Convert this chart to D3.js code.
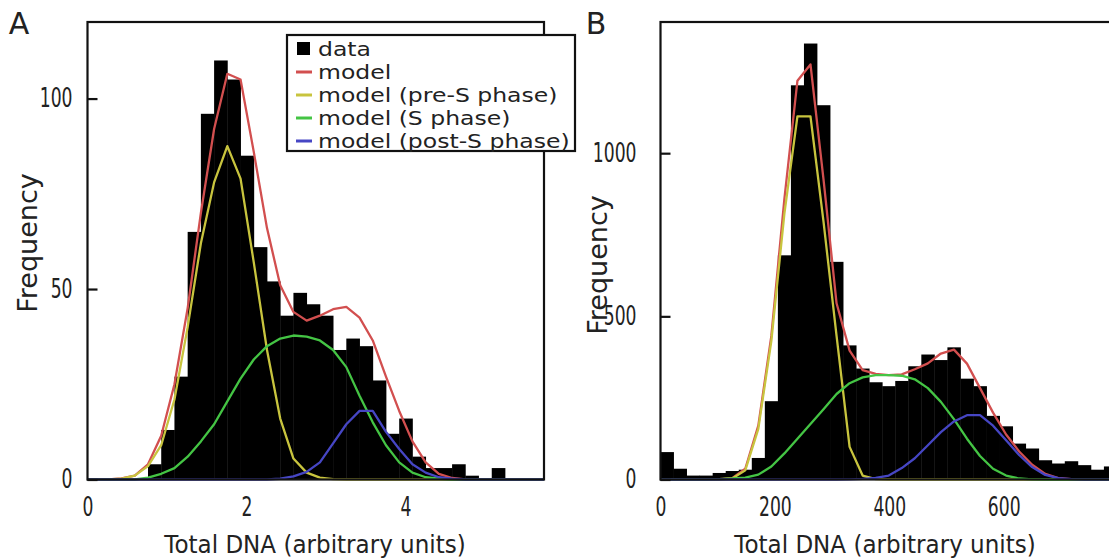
<!DOCTYPE html>
<html>
<head>
<meta charset="utf-8">
<script src="https://cdn.jsdelivr.net/npm/d3@7"></script>
<style>
body { margin: 0; background: #fff; }
svg text { font-family: "DejaVu Sans", Verdana, sans-serif; fill: #222; }
</style>
</head>
<body>
<svg id="chart" width="1109" height="559"></svg>
<script>
// ---- panel A : histogram counts, bins of 1/6 unit starting at 0.761
const countsA = [4, 13, 27, 65, 96, 110, 105, 85, 61, 52, 43, 49, 46, 43, 34, 37, 35, 26, 12, 16, 6, 3, 3, 4, 1, 0, 3]
const binStartA = 0.761
const binWidthA = 0.1663
// model curves, one value per grid point (grid = bin edges, starting 5 bins before the first bin)
const totalA = [0, 0, 0, 0.3, 1, 4, 11.5, 25, 45, 70, 92, 106.5, 105, 86, 66, 51, 44, 41.7, 43, 44.7, 45.3, 42.5, 36.5, 27, 18, 10, 4.5, 1.5, 0.4, 0, 0, 0, 0, 0, 0, 0]
const preA = [0, 0, 0, 0.2, 1, 3.5, 9, 21, 40, 62, 78, 87.5, 79, 57, 34, 16, 5.5, 1.8, 0.5, 0.1, 0, 0, 0, 0, 0, 0, 0, 0, 0, 0, 0, 0, 0, 0, 0, 0]
const sA = [0, 0, 0, 0, 0, 0.5, 1.5, 3, 6, 10, 14.5, 20.5, 26.5, 31.5, 35, 37, 37.8, 37.5, 36.5, 34, 29.5, 22, 15, 9, 4.5, 1.8, 0.6, 0.2, 0, 0, 0, 0, 0, 0, 0, 0]
const postA = [0, 0, 0, 0, 0, 0, 0, 0, 0, 0, 0, 0, 0, 0, 0, 0.2, 0.8, 2, 4.5, 9.5, 14.5, 18, 18, 12.5, 8, 4, 1.8, 0.6, 0.2, 0, 0, 0, 0, 0, 0, 0]
const xTicksA = [0, 2, 4]
const yTicksA = [0, 50, 100]

// ---- panel B
const countsB = [84, 33, 12, 12, 20, 26, 30, 66, 240, 687, 1208, 1336, 1147, 667, 411, 340, 298, 286, 302, 347, 383, 366, 405, 309, 286, 195, 163, 110, 95, 59, 49, 56, 44, 30, 40]
const binStartB = 0
const binWidthB = 22.8
// model curves at bin centres, starting one bin before the first bin
const totalB = [0, 0, 0, 0, 0, 1, 4, 33, 165, 440, 860, 1222, 1272, 920, 540, 395, 335, 324, 320, 322, 338, 356, 386, 398, 355, 280, 205, 138, 86, 45, 17, 4, 1, 0, 0, 0, 0]
const preB = [0, 0, 0, 0, 0, 0, 3, 28, 155, 425, 815, 1113, 1113, 790, 440, 100, 12, 1, 0, 0, 0, 0, 0, 0, 0, 0, 0, 0, 0, 0, 0, 0, 0, 0, 0, 0, 0]
const sB = [0, 0, 0, 0, 0, 1, 3, 6, 15, 40, 80, 125, 170, 215, 262, 295, 313, 320, 320, 318, 307, 280, 238, 185, 125, 72, 33, 12, 3, 0.5, 0, 0, 0, 0, 0, 0, 0]
const postB = [0, 0, 0, 0, 0, 0, 0, 0, 0, 0, 0, 0, 0, 0, 0, 0.5, 2, 5, 12, 35, 65, 105, 145, 178, 197, 197, 165, 120, 75, 38, 14, 4, 1, 0, 0, 0, 0]
const xTicksB = [0, 200, 400, 600]
const yTicksB = [0, 500, 1000]

const legendLabels = ['data', 'model', 'model (pre-S phase)', 'model (S phase)', 'model (post-S phase)']
const seriesColors = ['#000000', '#d24f4f', '#c8c43e', '#44c444', '#4646c4']

const svg = d3.select('#chart')

function squish(sel, f) {
	sel.each(function() {
		let w = this.getComputedTextLength()
		d3.select(this).attr('textLength', w * f).attr('lengthAdjust', 'spacingAndGlyphs')
	})
}

function drawPanel(p) {
	let g = svg.append('g')
	let x = d3.scaleLinear().domain(p.xDomain).range([p.left, p.right])
	let y = d3.scaleLinear().domain(p.yDomain).range([p.bottom, p.top])

	let clipId = 'clip-' + p.letter
	svg.append('clipPath').attr('id', clipId)
		.append('rect')
			.attr('x', p.left)
			.attr('y', p.top - 2)
			.attr('width', p.right - p.left)
			.attr('height', p.bottom - p.top + 4)

	let plot = g.append('g').attr('clip-path', `url(#${clipId})`)

	plot.selectAll('rect.bar')
		.data(p.counts)
		.join('rect')
			.attr('class', 'bar')
			.attr('x', (d, i) => x(p.binStart + i * p.binWidth))
			.attr('width', x(p.binWidth) - x(0) + 0.4)
			.attr('y', (d) => y(d))
			.attr('height', (d) => y(0) - y(d))
			.attr('fill', '#000')

	g.append('rect')
		.attr('x', p.left)
		.attr('y', p.top)
		.attr('width', p.right - p.left)
		.attr('height', p.bottom - p.top)
		.attr('fill', 'none')
		.attr('stroke', '#111')
		.attr('stroke-width', 2.2)

	let line = d3.line()
		.x((d, i) => x(p.modelStart + i * p.modelStep))
		.y((d) => y(d))

	p.models.forEach((m, k) => {
		plot.append('path')
			.attr('d', line(m))
			.attr('fill', 'none')
			.attr('stroke', seriesColors[k + 1])
			.attr('stroke-width', 2.3)
			.attr('stroke-linejoin', 'round')
	})

	// y axis, inward ticks
	let yAxis = g.append('g')
		.attr('transform', `translate(${p.left},0)`)
		.call(d3.axisLeft(y).tickValues(p.yTicks).tickFormat(d3.format('d'))
			.tickSizeInner(-10).tickSizeOuter(0).tickPadding(p.yPad))
	yAxis.select('.domain').remove()
	yAxis.attr('font-family', null).attr('font-size', null)
	yAxis.selectAll('line').attr('stroke', '#111').attr('stroke-width', 2.2)
	yAxis.selectAll('text').attr('font-size', 26).attr('fill', '#222')
	squish(yAxis.selectAll('text'), 0.66)

	// x axis, labels only
	let xAxis = g.append('g')
		.attr('transform', `translate(0,${p.bottom})`)
		.call(d3.axisBottom(x).tickValues(p.xTicks).tickFormat(d3.format('d')).tickSize(0).tickPadding(18))
	xAxis.select('.domain').remove()
	xAxis.attr('font-family', null).attr('font-size', null)
	xAxis.selectAll('text').attr('font-size', 26).attr('fill', '#222')
	squish(xAxis.selectAll('text'), 0.66)

	let xt = g.append('text')
		.attr('x', p.xTitle[0])
		.attr('y', p.xTitle[1])
		.attr('text-anchor', 'middle')
		.attr('font-size', 24)
		.text('Total DNA (arbitrary units)')
	squish(xt, 0.96)

	g.append('text')
		.attr('transform', `translate(${p.yTitle[0]},${p.yTitle[1]}) rotate(-90)`)
		.attr('text-anchor', 'middle')
		.attr('font-size', 27)
		.text('Frequency')

	g.append('text')
		.attr('x', p.letterPos[0])
		.attr('y', p.letterPos[1])
		.attr('text-anchor', 'middle')
		.attr('font-size', 30)
		.text(p.letter)

	return g
}

let gA = drawPanel({
	letter: 'A', letterPos: [19, 34],
	left: 87.5, right: 544, top: 22, bottom: 479.5,
	xDomain: [0, 5.742], yDomain: [0, 120.1],
	counts: countsA, binStart: binStartA, binWidth: binWidthA,
	modelStart: binStartA - 5 * binWidthA, modelStep: binWidthA,
	models: [totalA, preA, sA, postA],
	xTicks: xTicksA, yTicks: yTicksA, yPad: 15,
	xTitle: [315, 553], yTitle: [37, 243],
})

drawPanel({
	letter: 'B', letterPos: [596, 34],
	left: 660.5, right: 660.5 + 790 * 0.572, top: 22, bottom: 479.5,
	xDomain: [0, 790], yDomain: [0, 1402],
	counts: countsB, binStart: binStartB, binWidth: binWidthB,
	modelStart: binStartB - 0.5 * binWidthB, modelStep: binWidthB,
	models: [totalB, preB, sB, postB],
	xTicks: xTicksB, yTicks: yTicksB, yPad: 24,
	xTitle: [885, 553], yTitle: [607, 265],
})

// legend, over the top right of panel A
let legend = gA.append('g').attr('transform', 'translate(287,35)')
legend.append('rect')
	.attr('width', 288)
	.attr('height', 116)
	.attr('fill', '#fff')
	.attr('stroke', '#111')
	.attr('stroke-width', 2.2)

let rows = legend.selectAll('g.row')
	.data(legendLabels)
	.join('g')
		.attr('class', 'row')
		.attr('transform', (d, i) => `translate(0,${13 + i * 23})`)

rows.each(function(d, i) {
	let r = d3.select(this)
	if (i === 0) {
		r.append('rect').attr('x', 10).attr('y', -6).attr('width', 13).attr('height', 13).attr('fill', '#000')
	} else {
		r.append('line').attr('x1', 9).attr('x2', 25).attr('y1', 1).attr('y2', 1)
			.attr('stroke', seriesColors[i]).attr('stroke-width', 3)
	}
	let t = r.append('text')
		.attr('x', 31)
		.attr('y', 8)
		.attr('font-size', 19.6)
		.text(d)
	squish(t, 1.2)
})
</script>
</body>
</html>
